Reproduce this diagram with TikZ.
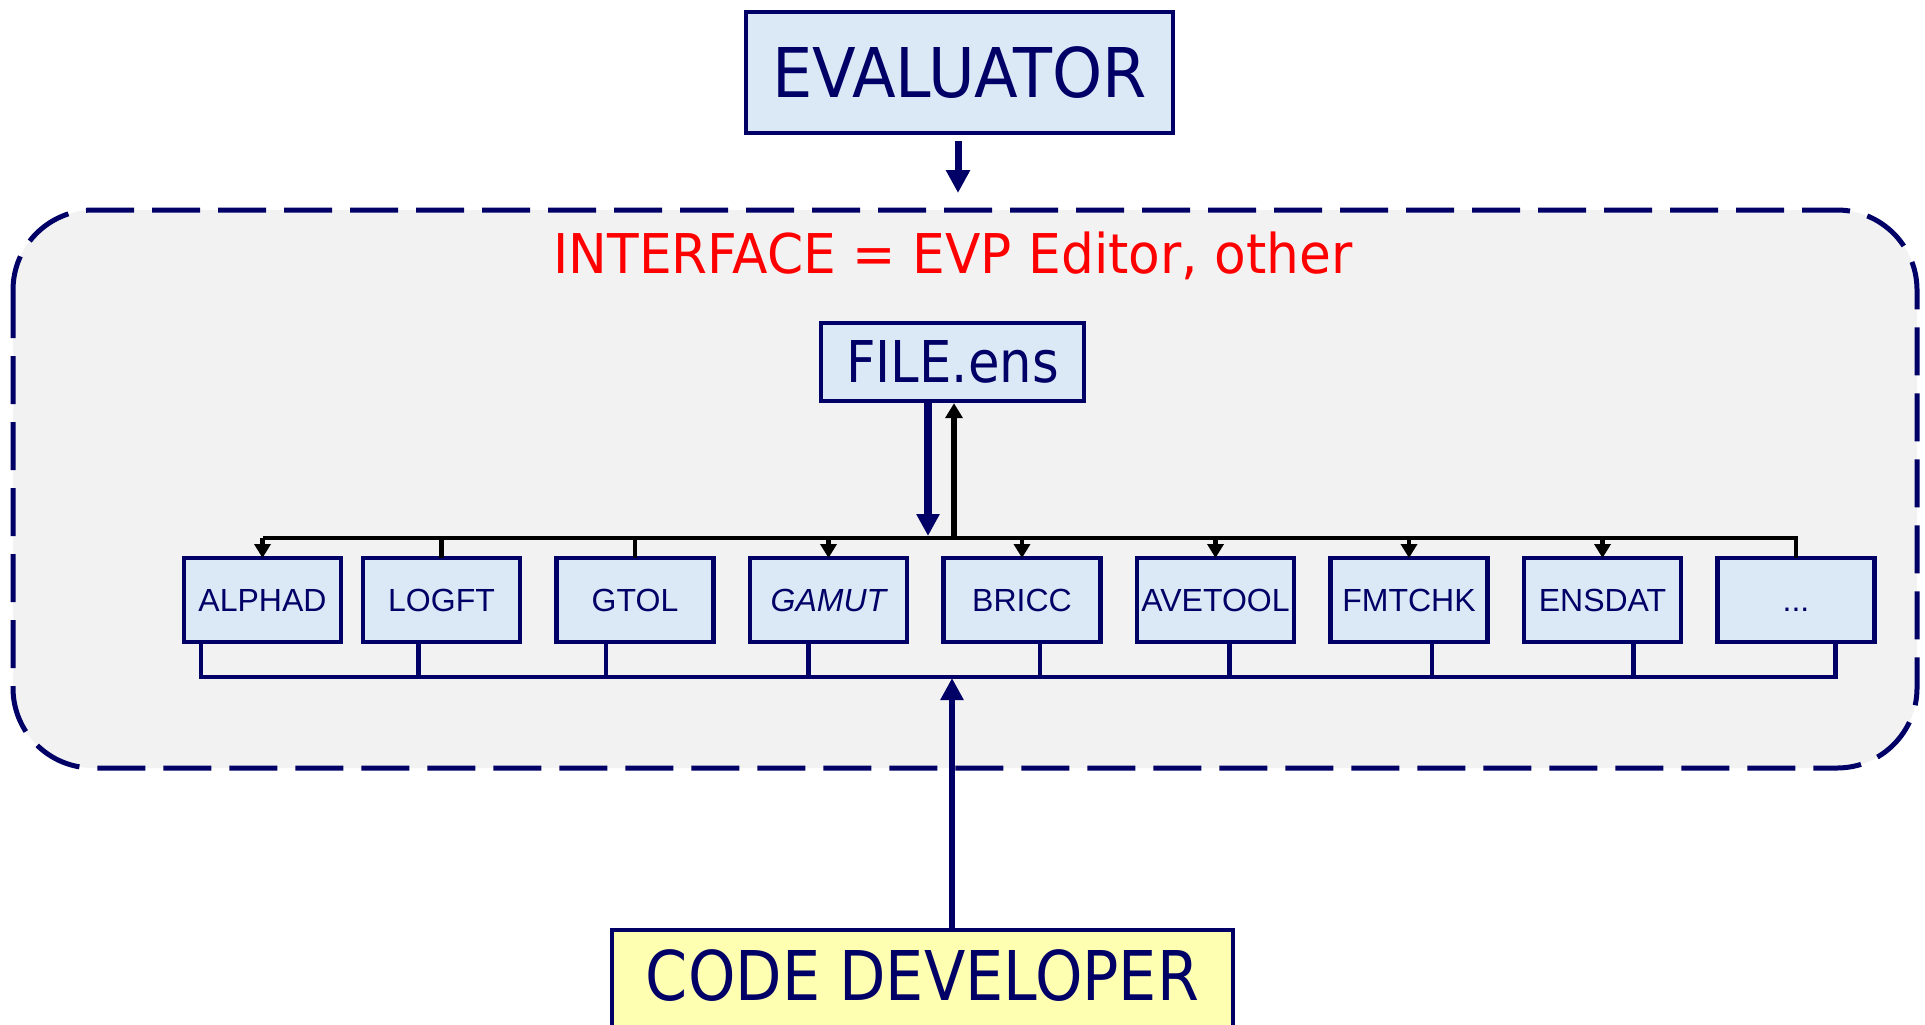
\documentclass[tikz,border=0pt]{standalone}
\usepackage{fontspec}
\setmainfont{Liberation Sans}
\newfontfamily\comicfont{DejaVu Sans}
\usetikzlibrary{positioning}
\usetikzlibrary{arrows.meta}
\definecolor{navy}{RGB}{0,0,102}
\definecolor{boxblue}{RGB}{219,232,246}
\definecolor{boxyellow}{RGB}{255,255,178}
\definecolor{ifacegray}{RGB}{242,242,242}
\tikzset{tool/.style={draw=navy, line width=2.4pt, fill=boxblue, text=navy, minimum width=78.5pt, minimum height=42pt, inner sep=0pt, outer sep=0pt, text height=11.5pt, text depth=0pt, font=\fontsize{16}{19}\selectfont}}
\tikzset{actor/.style={draw=navy, line width=2.2pt, text=navy, inner sep=0pt}}
\tikzset{topbus/.style={line width=2.2pt, black}}
\tikzset{lowbus/.style={line width=2.2pt, navy}}
\tikzset{tip/.style={-{Triangle[width=8pt,length=7pt]}, line width=2.2pt, black}}
\newcommand{\hand}[3]{{\comicfont\fontsize{#1}{#1}\selectfont\scalebox{#2}[1]{#3}}}

\begin{document}
\begin{tikzpicture}[x=0.5pt, y=-0.5pt]
        \clip (0,0) rectangle (1925,1024);
        \fill[white] (0,0) rectangle (1925,1024);

        % shared interface area
        \draw[navy, line width=2.5pt, fill=ifacegray, rounded corners=40pt, dash pattern=on 24pt off 9pt] (13,210) rectangle (1917,768);
        \node[text=red] (iftext) at (953,256) {\hand{27.4}{0.945}{INTERFACE = EVP Editor, other}};

        \node[actor, fill=boxblue, minimum width=213.5pt, minimum height=60.5pt] (eval) at (959.5,72.5) {\hand{34.3}{0.93}{EVALUATOR}};
        \node[actor, fill=boxblue, minimum width=131.5pt, minimum height=39pt] (file) at (952.5,362) {\hand{28.8}{0.89}{FILE.ens}};
        \node[actor, fill=boxyellow, minimum width=310.5pt, minimum height=60pt, text height=30pt, text depth=20pt] (dev) at (922.5,990) {\hand{34.3}{0.88}{CODE DEVELOPER}};

        \node[tool] (alphad) at (262.5,600) {ALPHAD};
        \node[tool, right=11pt of alphad] (logft) {LOGFT};
        \node[tool, right=18.25pt of logft] (gtol) {GTOL};
        \node[tool, right=18.25pt of gtol] (gamut) {\itshape GAMUT};
        \node[tool, right=18.25pt of gamut] (bricc) {BRICC};
        \node[tool, right=18.25pt of bricc] (avetool) {AVETOOL};
        \node[tool, right=18.25pt of avetool] (fmtchk) {FMTCHK};
        \node[tool, right=18.25pt of fmtchk] (ensdat) {ENSDAT};
        \node[tool, right=18.25pt of ensdat] (dots) {...};

        \coordinate (tbus) at (0,538);
        \coordinate (bbus) at (0,677);
        \coordinate (etip) at (958,193);
        \coordinate (fdn) at (928,536);
        \coordinate (fup) at (954,538);
        \coordinate (dtip) at (952,678);

        \draw[navy, line width=3.5pt, shorten <=3pt, -{Triangle[width=11.5pt,length=11.5pt]}] (eval.south -| etip) -- (etip);
        \draw[navy, line width=4pt, -{Triangle[width=11pt,length=11pt]}] (file.south -| fdn) -- (fdn);
        \draw[black, line width=3pt, -{Triangle[width=8.5pt,length=7.5pt]}] (fup) -- (file.south -| fup);

        % bus above the tools
        \draw[topbus] (alphad.north |- tbus) -- (dots.north |- tbus) -- (dots.north);
        \foreach \n in {alphad,gamut,bricc,avetool,fmtchk,ensdat}
            \draw[tip] (\n.north |- tbus) -- (\n.north);
        \foreach \n in {logft,gtol}
            \draw[topbus] (\n.north |- tbus) -- (\n.north);

        % bus below the tools
        \foreach \n/\dx in {alphad/-30.75,logft/-11.5,gtol/-14.5,gamut/-10,bricc/9,avetool/7,fmtchk/11.5,ensdat/15.5,dots/19.75}
            \path ([xshift=\dx pt]\n.south) coordinate (d\n);
        \draw[lowbus] (dalphad) -- (dalphad |- bbus) -- (ddots |- bbus) -- (ddots);
        \foreach \n in {logft,gtol,gamut,bricc,avetool,fmtchk,ensdat}
            \draw[lowbus] (d\n) -- (d\n |- bbus);

        \draw[navy, line width=3pt, -{Triangle[width=11pt,length=11pt]}] (dev.north -| dtip) -- (dtip);
\end{tikzpicture}
\end{document}
